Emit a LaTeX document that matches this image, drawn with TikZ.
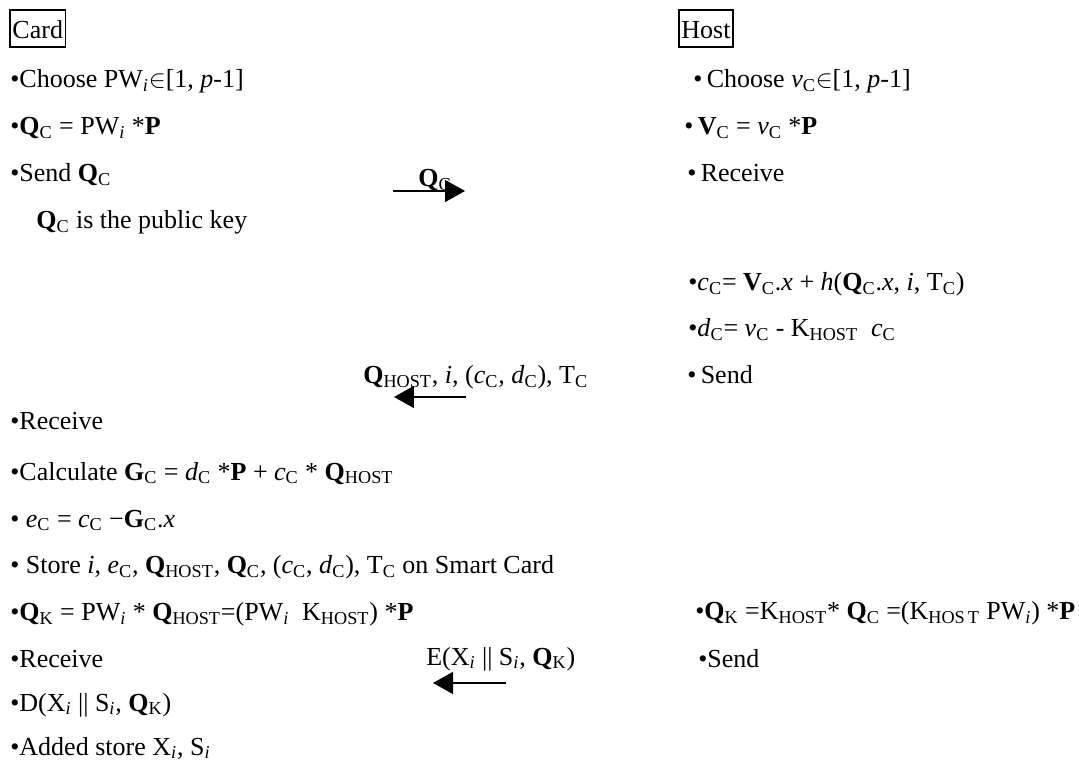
\documentclass[tikz,border=0pt]{standalone}
\usepackage{fontspec}
\setmainfont{Liberation Serif}
\usetikzlibrary{arrows.meta}
\newcommand{\sbs}[1]{\textsubscript{#1}}
\newcommand{\Qb}{\textbf{Q}}

\begin{document}
\fontsize{14.8}{17}\selectfont
\begin{tikzpicture}
				[
					x = 0.02cm, y = -0.02cm,
					step line/.style = {anchor = base west, inner sep = 0},
					party/.style = {draw, line width = 1.1pt, anchor = base west, inner sep = 0, inner xsep = 0.05cm, text height = 0.58cm, text depth = 0.16cm},
					msg/.style = {line width = 0.8pt, -{Triangle[length = 0.4cm, width = 0.44cm]}}
				]
				\useasboundingbox (0,0) rectangle (1079,763);
				\node[party] (card) at (9,39) {Card};
				\node[party] (host) at (678,39) {Host};
				\node[step line] (choose) at (10,88) {•Choose PW\sbs{\textit{i}}$\in$[1, \textit{p}-1]};
				\node[step line] (qc) at (10,135) {•\Qb\sbs{C} = PW\sbs{\textit{i}} *\textbf{P}};
				\node[step line] (send) at (10,182) {•Send \Qb\sbs{C}};
				\node[step line] (pub) at (36,229) {\Qb\sbs{C} is the public key};
				\node[step line] (recv) at (10,430) {•Receive};
				\node[step line] (calc) at (10,480) {•Calculate \textbf{G}\sbs{C} = \textit{d}\sbs{C} *\textbf{P} + \textit{c}\sbs{C} * \Qb\sbs{HOST}};
				\node[step line] (ec) at (10,527) {• \textit{e}\sbs{C} = \textit{c}\sbs{C} −\textbf{G}\sbs{C}.\textit{x}};
				\node[step line] (store) at (10,574) {• Store \textit{i}, \textit{e}\sbs{C}, \Qb\sbs{HOST}, \Qb\sbs{C}, (\textit{c}\sbs{C}, \textit{d}\sbs{C}), T\sbs{C} on Smart Card};
				\node[step line] (qk) at (10,621) {•\Qb\sbs{K} = PW\sbs{\textit{i}} * \Qb\sbs{HOST}=(PW\sbs{\textit{i}}\ \ K\sbs{HOST}) *\textbf{P}};
				\node[step line] (recvx) at (10,667) {•Receive};
				\node[step line] (dec) at (10,711) {•D(X\sbs{\textit{i}} || S\sbs{\textit{i}}, \Qb\sbs{K})};
				\node[step line] (added) at (10,755) {•Added store X\sbs{\textit{i}}, S\sbs{\textit{i}}};
				\node[step line] (hchoose) at (693,88) {•\,Choose \textit{v}\sbs{C}$\in$[1, \textit{p}-1]};
				\node[step line] (vc) at (684,135) {•\,\textbf{V}\sbs{C} = \textit{v}\sbs{C} *\textbf{P}};
				\node[step line] (hrecv) at (687,182) {•\,Receive};
				\node[step line] (cc) at (688,291) {•\textit{c}\sbs{C}= \textbf{V}\sbs{C}.\textit{x} + \textit{h}(\Qb\sbs{C}.\textit{x}, \textit{i}, T\sbs{C})};
				\node[step line] (dc) at (688,337) {•\textit{d}\sbs{C}= \textit{v}\sbs{C} - K\sbs{HOST}\ \ \textit{c}\sbs{C}};
				\node[step line] (hsend) at (687,384) {•\,Send};
				\node[step line] (hqk) at (695,620) {•\Qb\sbs{K} =K\sbs{HOST}* \Qb\sbs{C} =(K\sbs{HOS\,T} PW\sbs{\textit{i}}) *\textbf{P}};
				\node[step line] (hsendx) at (698,667) {•Send};
				\node[step line] (lqc) at (418,187) {\Qb\sbs{C}};
				\node[step line] (lkey) at (363,384) {\Qb\sbs{HOST}, \textit{i}, (\textit{c}\sbs{C}, \textit{d}\sbs{C}), T\sbs{C}};
				\node[step line] (lenc) at (426,665) {E(X\sbs{\textit{i}} || S\sbs{\textit{i}}, \Qb\sbs{K})};
				\coordinate (m1a) at (393,191);
				\coordinate (m1b) at (465,191);
				\coordinate (m2a) at (466,397);
				\coordinate (m2b) at (394,397);
				\coordinate (m3a) at (506,683);
				\coordinate (m3b) at (433,683);
				\draw[msg] (m1a) -- (m1b);
				\draw[msg] (m2a) -- (m2b);
				\draw[msg] (m3a) -- (m3b);
		\end{tikzpicture}
\end{document}
